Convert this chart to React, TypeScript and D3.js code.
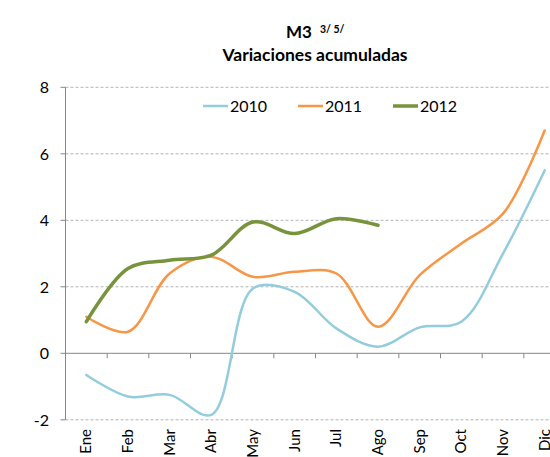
import React from "react";
import * as d3 from "d3";

const months = ["Ene", "Feb", "Mar", "Abr", "May", "Jun", "Jul", "Ago", "Sep", "Oct", "Nov", "Dic"];
const s2010 = [-0.65, -1.3, -1.25, -1.85, 1.95, 1.85, 0.75, 0.2, 0.78, 0.95, 3.0, 5.5];
const s2011 = [1.1, 0.65, 2.4, 2.9, 2.3, 2.45, 2.4, 0.8, 2.35, 3.3, 4.2, 6.7];
const s2012 = [0.95, 2.55, 2.8, 2.95, 3.95, 3.6, 4.05, 3.85];
const yTicks = [-2, 0, 2, 4, 6, 8];
const seriesNames = ["2010", "2011", "2012"];

const font = "Lato, 'Open Sans', sans-serif";

export default function App() {
  const left = 65.5;
  const right = 565.5;
  const top = 87.3;
  const bottom = 419.8;
  const x = d3.scaleBand<string>().domain(months).range([left, right]);
  const y = d3.scaleLinear().domain([-2, 8]).range([bottom, top]);
  const cx = (i: number) => (x(months[i]) as number) + x.bandwidth() / 2;
  const line = d3
    .line<number>()
    .x((_, i) => cx(i))
    .y((d) => y(d))
    .curve(d3.curveCatmullRom.alpha(0.5));
  const series = [
    { name: seriesNames[0], data: s2010, color: "#93CDDD", w: 2.5 },
    { name: seriesNames[1], data: s2011, color: "#F79646", w: 2.5 },
    { name: seriesNames[2], data: s2012, color: "#77933C", w: 3.5 },
  ];
  const legendX = [203, 298, 393];
  return (
    <svg width={550} height={457} style={{ position: "absolute", left: 0, top: 0, background: "#fff" }}>
      <text x={286} y={38} fontFamily={font} fontWeight="bold" fontSize={17} fill="#000">
        M3
      </text>
      <text x={320} y={33} fontFamily={font} fontWeight="bold" fontSize={10.5} fill="#000">
        3/ 5/
      </text>
      <text x={315} y={61} textAnchor="middle" fontFamily={font} fontWeight="bold" fontSize={17.5} fill="#000">
        Variaciones acumuladas
      </text>
      {yTicks
        .filter((t) => t !== 0)
        .map((t) => (
          <line key={t} x1={left} x2={550} y1={y(t)} y2={y(t)} stroke="#B3B3B3" strokeWidth={1} strokeDasharray="3,2" />
        ))}
      <line x1={left} x2={left} y1={top} y2={bottom} stroke="#868686" strokeWidth={1} />
      <line x1={left} x2={550} y1={y(0)} y2={y(0)} stroke="#868686" strokeWidth={1} />
      {months.map((m) => (
        <line key={m} x1={x(m) as number} x2={x(m) as number} y1={y(0)} y2={y(0) + 5} stroke="#868686" />
      ))}
      {yTicks.map((t) => (
        <g key={t}>
          <line x1={left - 5} x2={left} y1={y(t)} y2={y(t)} stroke="#868686" />
          <text x={49} y={y(t) + 6} textAnchor="end" fontFamily={font} fontSize={16} fill="#000">
            {t}
          </text>
        </g>
      ))}
      {months.map((m, i) => (
        <text
          key={m}
          transform={`translate(${cx(i) + 5},429) rotate(-90)`}
          textAnchor="end"
          fontFamily={font}
          fontSize={15}
          fill="#000"
        >
          {m}
        </text>
      ))}
      {series.map((s) => (
        <path key={s.name} d={line(s.data) || ""} fill="none" stroke={s.color} strokeWidth={s.w} strokeLinecap="round" />
      ))}
      {series.map((s, i) => (
        <g key={s.name}>
          <line x1={legendX[i]} x2={legendX[i] + 25} y1={106} y2={106} stroke={s.color} strokeWidth={s.w} />
          <text x={legendX[i] + 27} y={112} fontFamily={font} fontSize={16} fill="#000">
            {s.name}
          </text>
        </g>
      ))}
    </svg>
  );
}
